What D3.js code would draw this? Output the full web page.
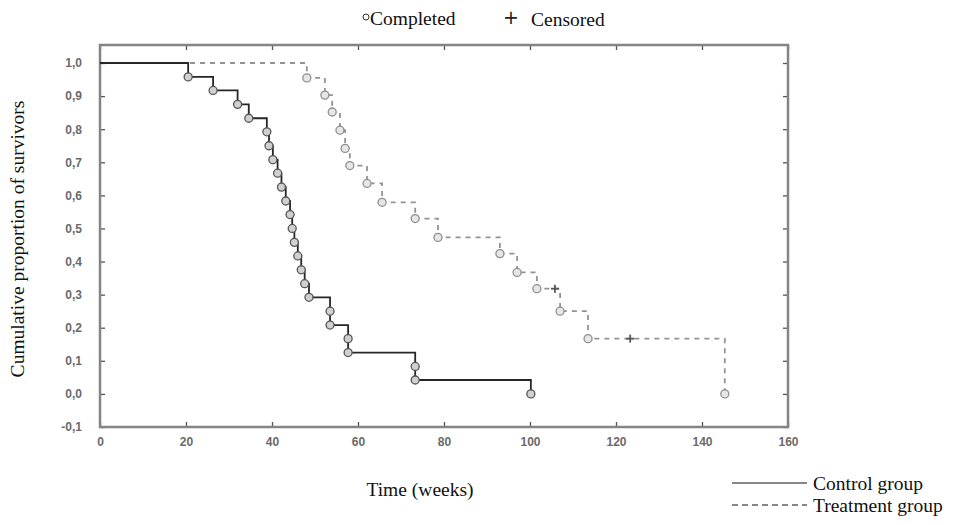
<!DOCTYPE html>
<html>
<head>
<meta charset="utf-8">
<script src="https://cdn.jsdelivr.net/npm/d3@7"></script>
<style>
  body { margin: 0; background: #fff; }
  svg text { font-family: "Liberation Serif", "Times New Roman", serif; }
</style>
</head>
<body>
<div id="chart"></div>
<script>
// tick values
var xTicks = [0, 20, 40, 60, 80, 100, 120, 140, 160];
var yTicks = [-0.1, 0.0, 0.1, 0.2, 0.3, 0.4, 0.5, 0.6, 0.7, 0.8, 0.9, 1.0];

// control group: time of each completed case and survival after it
var controlTime = [20.5, 26.3, 32.0, 34.6, 38.8, 39.3, 40.2, 41.3, 42.2, 43.2, 44.2, 44.7,
                   45.2, 46.0, 46.8, 47.6, 48.6, 53.5, 53.5, 57.7, 57.7, 73.3, 73.3, 100.2];
var controlSurv = [0.958, 0.917, 0.875, 0.833, 0.792, 0.750, 0.708, 0.667, 0.625, 0.583, 0.542, 0.500,
                   0.458, 0.417, 0.375, 0.333, 0.292, 0.250, 0.208, 0.167, 0.125, 0.083, 0.042, 0.0];

// treatment group
var treatTime = [48.1, 52.3, 54.0, 55.8, 57.0, 58.1, 62.1, 65.6, 73.3, 78.6, 93.0, 97.0, 101.6, 107.0, 113.5, 145.3];
var treatSurv = [0.955, 0.903, 0.852, 0.797, 0.742, 0.690, 0.636, 0.579, 0.530, 0.473, 0.424, 0.367, 0.318, 0.250, 0.167, 0.0];

// censored cases
var censTime = [105.8, 123.3];
var censSurv = [0.318, 0.167];

function drawChart() {

    var svgWidth = 959, svgHeight = 525;
    var margin = { left: 100, right: 788, top: 45, bottom: 427 };

    var svg = d3.select("#chart").append("svg")
        .attr("width", svgWidth)
        .attr("height", svgHeight);

    var x = d3.scaleLinear().domain([0, 160]).range([margin.left, margin.right]);
    var y = d3.scaleLinear().domain([-0.1, 1.0544]).range([margin.bottom, margin.top]);

    var fmt = function(d) { return d3.format(".1f")(d).replace(".", ",").replace("\u2212", "-"); };

    // axes with inward ticks
    var gL = svg.append("g").attr("transform", "translate(" + margin.left + ",0)")
        .call(d3.axisLeft(y).tickValues(yTicks).tickSize(-5).tickPadding(18).tickFormat(fmt));
    var gB = svg.append("g").attr("transform", "translate(0," + margin.bottom + ")")
        .call(d3.axisBottom(x).tickValues(xTicks).tickSize(-5).tickPadding(10));
    var gT = svg.append("g").attr("transform", "translate(0," + margin.top + ")")
        .call(d3.axisTop(x).tickValues(xTicks).tickSize(-5).tickFormat(""));
    var gR = svg.append("g").attr("transform", "translate(" + margin.right + ",0)")
        .call(d3.axisRight(y).tickValues(yTicks).tickSize(-5).tickFormat(""));

    [gL, gB, gT, gR].forEach(function(g) {
        g.select(".domain").remove();
        g.selectAll(".tick line").attr("stroke", "#555").attr("stroke-width", 1.3);
        g.selectAll(".tick text")
            .style("font-family", "'Liberation Sans', Arial, sans-serif")
            .style("font-weight", "bold")
            .attr("font-size", 12)
            .attr("fill", "#6a6a6a");
    });

    svg.append("rect")
        .attr("x", margin.left).attr("y", margin.top)
        .attr("width", margin.right - margin.left).attr("height", margin.bottom - margin.top)
        .attr("fill", "none").attr("stroke", "#858585").attr("stroke-width", 2.5);

    // step paths
    function stepPoints(times, surv) {
        var pts = [[0, 1.0]];
        times.forEach(function(t, i) { pts.push([t, surv[i]]); });
        return pts;
    }
    var line = d3.line().x(function(d) { return x(d[0]); }).y(function(d) { return y(d[1]); })
        .curve(d3.curveStepAfter);

    svg.append("path")
        .datum(stepPoints(treatTime, treatSurv))
        .attr("d", line)
        .attr("fill", "none").attr("stroke", "#939393")
        .attr("stroke-width", 1.8).attr("stroke-dasharray", "5,5");

    svg.append("path")
        .datum(stepPoints(controlTime, controlSurv))
        .attr("d", line)
        .attr("fill", "none").attr("stroke", "#262626").attr("stroke-width", 1.8);

    // completed markers
    svg.selectAll(".tc").data(treatTime).enter().append("circle")
        .attr("cx", function(d) { return x(d); })
        .attr("cy", function(d, i) { return y(treatSurv[i]); })
        .attr("r", 4)
        .attr("fill", "#e6e6e6").attr("stroke", "#8e8e8e").attr("stroke-width", 1.3);

    svg.selectAll(".cc").data(controlTime).enter().append("circle")
        .attr("cx", function(d) { return x(d); })
        .attr("cy", function(d, i) { return y(controlSurv[i]); })
        .attr("r", 4)
        .attr("fill", "#d0d0d0").attr("stroke", "#555").attr("stroke-width", 1.3);

    // censored markers
    var plus = svg.selectAll(".cs").data(censTime).enter().append("g")
        .attr("transform", function(d, i) { return "translate(" + x(d) + "," + y(censSurv[i]) + ")"; });
    plus.append("line").attr("x1", -4).attr("x2", 4).attr("y1", 0).attr("y2", 0)
        .attr("stroke", "#555").attr("stroke-width", 1.8);
    plus.append("line").attr("x1", 0).attr("x2", 0).attr("y1", -4).attr("y2", 4)
        .attr("stroke", "#555").attr("stroke-width", 1.8);

    // axis titles
    svg.append("text")
        .attr("transform", "translate(24," + ((margin.top + margin.bottom) / 2 + 3) + ") rotate(-90)")
        .attr("text-anchor", "middle").attr("font-size", 19.5).attr("fill", "#111")
        .text("Cumulative proportion of survivors");

    svg.append("text")
        .attr("x", 420).attr("y", 496)
        .attr("text-anchor", "middle").attr("font-size", 19.5).attr("fill", "#111")
        .text("Time (weeks)");

    // top legend
    svg.append("circle").attr("cx", 366).attr("cy", 17).attr("r", 3)
        .attr("fill", "none").attr("stroke", "#333").attr("stroke-width", 1);
    svg.append("text").attr("x", 370).attr("y", 25).attr("font-size", 19.5).attr("fill", "#111")
        .text("Completed");
    svg.append("text").attr("x", 511).attr("y", 24).attr("text-anchor", "middle")
        .style("font-family", "'DejaVu Sans', sans-serif")
        .attr("font-size", 19).attr("fill", "#222")
        .text("+");
    svg.append("text").attr("x", 531).attr("y", 26).attr("font-size", 19.5).attr("fill", "#111")
        .text("Censored");

    // bottom-right legend
    svg.append("line").attr("x1", 732).attr("x2", 807).attr("y1", 483).attr("y2", 483)
        .attr("stroke", "#111").attr("stroke-width", 1.2);
    svg.append("text").attr("x", 813).attr("y", 490).attr("font-size", 19.5).attr("fill", "#111")
        .text("Control group");
    svg.append("line").attr("x1", 732).attr("x2", 807).attr("y1", 505).attr("y2", 505)
        .attr("stroke", "#111").attr("stroke-width", 1.2).attr("stroke-dasharray", "6,4");
    svg.append("text").attr("x", 813).attr("y", 512).attr("font-size", 19.5).attr("fill", "#111")
        .text("Treatment group");
}

drawChart();
</script>
</body>
</html>
